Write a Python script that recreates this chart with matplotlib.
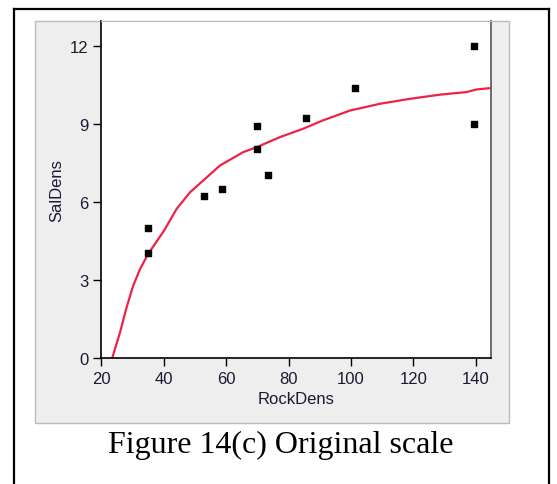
import matplotlib.pyplot as plt
from matplotlib.patches import Rectangle
from matplotlib.lines import Line2D

# puntos observados
rock_dens = [35.1, 35.1, 53.1, 58.8, 69.8, 69.8, 73.5, 85.5, 101.2, 139.5, 139.5]
sal_dens = [5.0, 4.04, 6.22, 6.49, 8.9, 8.04, 7.03, 9.22, 10.38, 12.0, 9.0]

# curva ajustada
fit_x = [23.6, 26.1, 28.2, 30.3, 32.5, 35.1, 40.2, 44.2, 48.5, 52.7, 58.1, 65.5,
         69.8, 77.3, 84.7, 91.0, 99.7, 109.3, 118.9, 128.5, 137.0, 140.2, 144.5]
fit_y = [0.0, 0.99, 1.95, 2.78, 3.42, 4.0, 4.90, 5.73, 6.37, 6.82, 7.40, 7.91,
         8.10, 8.49, 8.81, 9.13, 9.51, 9.77, 9.96, 10.12, 10.22, 10.32, 10.37]

x_ticks = [20, 40, 60, 80, 100, 120, 140]
y_ticks = [0, 3, 6, 9, 12]

W, H = 557, 485
fig = plt.figure(figsize=(W / 100, H / 100), dpi=100)
fig.patch.set_facecolor('white')

# marco negro exterior
for xs, ys in [([14, 14], [H + 5, 10]), ([14, 549], [10, 10]), ([549, 549], [10, H + 5])]:
    fig.add_artist(Line2D([x / W for x in xs], [1 - y / H for y in ys],
                          color='black', lw=1.6, transform=fig.transFigure))

# panel gris
fig.add_artist(Rectangle((35 / W, 1 - 424 / H), 474 / W, 402 / H,
                         transform=fig.transFigure, facecolor='#eeeeee',
                         edgecolor='#bbbbbb', lw=1.0, zorder=0))

ax = fig.add_axes([101 / W, 1 - 359 / H, 390 / W, 337 / H])
ax.set_facecolor('white')
ax.plot(fit_x, fit_y, color='#ee2244', lw=1.6, zorder=2,
        solid_joinstyle='round', solid_capstyle='round')
ax.scatter(rock_dens, sal_dens, marker='s', s=18, color='black', zorder=3)

ax.set_xlim(20, 144.8)
ax.set_ylim(0, 12.95)
ax.set_xticks(x_ticks)
ax.set_yticks(y_ticks)

lbl_color = '#1a1a33'
ax.tick_params(direction='out', length=6, width=1, labelsize=12,
               labelcolor=lbl_color, pad=3)
for lab in ax.get_xticklabels() + ax.get_yticklabels():
    lab.set_fontfamily('Liberation Sans')

for s in ['left', 'bottom']:
    ax.spines[s].set_color('black')
    ax.spines[s].set_linewidth(1.2)
ax.spines['right'].set_color('#555555')
ax.spines['right'].set_linewidth(1.2)
ax.spines['top'].set_color('#bbbbbb')

ax.set_xlabel('RockDens', fontsize=12, family='Liberation Sans',
              color=lbl_color, labelpad=4)
ax.set_ylabel('SalDens', fontsize=12, family='Liberation Sans',
              color=lbl_color, labelpad=4)

fig.text(280.5 / W, 1 - 453 / H, 'Figure 14(c) Original scale',
         family='Liberation Serif', fontsize=23, ha='center', va='baseline')

fig.savefig('out.png', dpi=100)
